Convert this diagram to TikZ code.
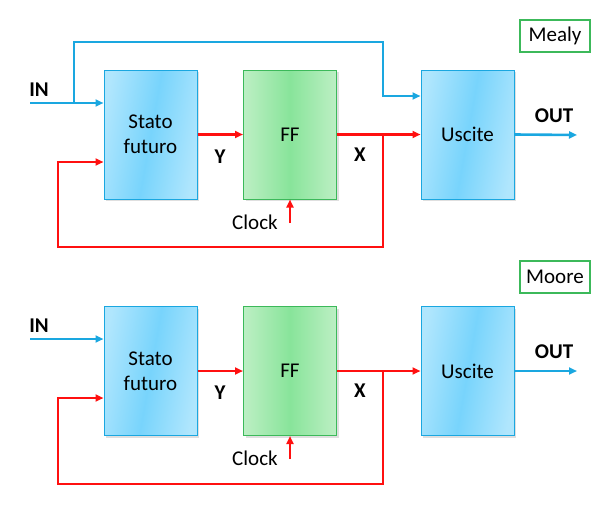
\documentclass[tikz,border=0pt]{standalone}
\usepackage{fontspec}
\setmainfont{Carlito}
\usetikzlibrary{arrows.meta,shadows}
\definecolor{bline}{HTML}{1AA7E0}
\definecolor{rline}{HTML}{FF1010}
\definecolor{bfill}{HTML}{78D4FC}
\definecolor{blight}{HTML}{B0E6FD}
\definecolor{gfill}{HTML}{88E49A}
\definecolor{glight}{HTML}{BDEFC4}
\definecolor{gedge}{HTML}{3CB95A}
\tikzset{
  blk/.style={draw=bline, line width=1pt, minimum width=93pt, minimum height=129pt,
    left color=blight, right color=blight, middle color=bfill, shading angle=80,
    drop shadow={opacity=0.25, shadow xshift=2pt, shadow yshift=-2pt},
    font=\fontsize{21}{25}\selectfont, align=center, inner sep=0pt},
  gblk/.style={blk, draw=gedge, left color=glight, right color=glight, middle color=gfill},
  tagbox/.style={draw=gedge, line width=1.2pt, fill=white, minimum width=70pt, minimum height=32pt,
    font=\fontsize{21}{22}\selectfont, inner sep=0pt},
  lbl/.style={font=\fontsize{21}{22}\selectfont\bfseries, inner sep=0pt},
  txt/.style={font=\fontsize{21}{22}\selectfont, inner sep=0pt},
  bw/.style={draw=bline, line width=2.6pt},
  rw/.style={draw=rline, line width=2.8pt},
  tip/.style={-{Triangle[length=8pt,width=7pt]}},
}
\begin{document}
\begin{tikzpicture}[x=1pt,y=-1pt]
\useasboundingbox (0,0) rectangle (616,514);
% ---------- Mealy ----------
\node[tagbox] (mealy) at (555,36) {Mealy};
\node[blk] (s1) at (150.5,134.5) {Stato\\futuro};
\node[gblk] (f1) at (290,134.5) {FF};
\node[blk] (u1) at (467.5,134.5) {Uscite};
\coordinate (in1) at (30,103);
\coordinate (b1) at (74,103);
\coordinate (t1) at (74,42);
\coordinate (t2) at (383,42);
\coordinate (t3) at (383,96);
\coordinate (x1) at (383,135);
\coordinate (fb1) at (383,247);
\coordinate (fb2) at (58,247);
\coordinate (fb3) at (58,162);
\coordinate (o1) at (577,135);
\coordinate (c1) at (290,223);
\draw[bw,tip] (in1) -- (in1 -| s1.west);
\draw[bw,tip] (b1) -- (t1) -- (t2) -- (t3) -- (t3 -| u1.west);
\draw[rw,tip] (s1.east) -- (f1.west);
\draw[rw,tip] (f1.east) -- (u1.west);
\draw[rw,tip] (x1) -- (fb1) -- (fb2) -- (fb3) -- (fb3 -| s1.west);
\draw[bw,tip] (u1.east) -- (o1);
\draw[rw,tip] (c1) -- (f1.south);
\node[lbl] (inl1) at (39,90) {IN};
\node[lbl] (yl1) at (220,157) {Y};
\node[lbl] (xl1) at (360,155) {X};
\node[lbl] (ol1) at (554,116) {OUT};
\node[txt] (cl1) at (255,222) {Clock};
% ---------- Moore ----------
\node[tagbox] (moore) at (555,277) {Moore};
\node[blk] (s2) at (150.5,371) {Stato\\futuro};
\node[gblk] (f2) at (290,371) {FF};
\node[blk] (u2) at (467.5,371) {Uscite};
\coordinate (in2) at (30,339);
\coordinate (x2) at (383,371);
\coordinate (gb1) at (383,484);
\coordinate (gb2) at (58,484);
\coordinate (gb3) at (58,398);
\coordinate (o2) at (577,371);
\coordinate (c2) at (290,459);
\draw[bw,tip] (in2) -- (in2 -| s2.west);
\draw[rw,tip] (s2.east) -- (f2.west);
\draw[rw,tip] (f2.east) -- (u2.west);
\draw[rw,tip] (x2) -- (gb1) -- (gb2) -- (gb3) -- (gb3 -| s2.west);
\draw[bw,tip] (u2.east) -- (o2);
\draw[rw,tip] (c2) -- (f2.south);
\node[lbl] (inl2) at (39,326) {IN};
\node[lbl] (yl2) at (220,393) {Y};
\node[lbl] (xl2) at (360,391) {X};
\node[lbl] (ol2) at (554,352) {OUT};
\node[txt] (cl2) at (255,458) {Clock};
\end{tikzpicture}
\end{document}
